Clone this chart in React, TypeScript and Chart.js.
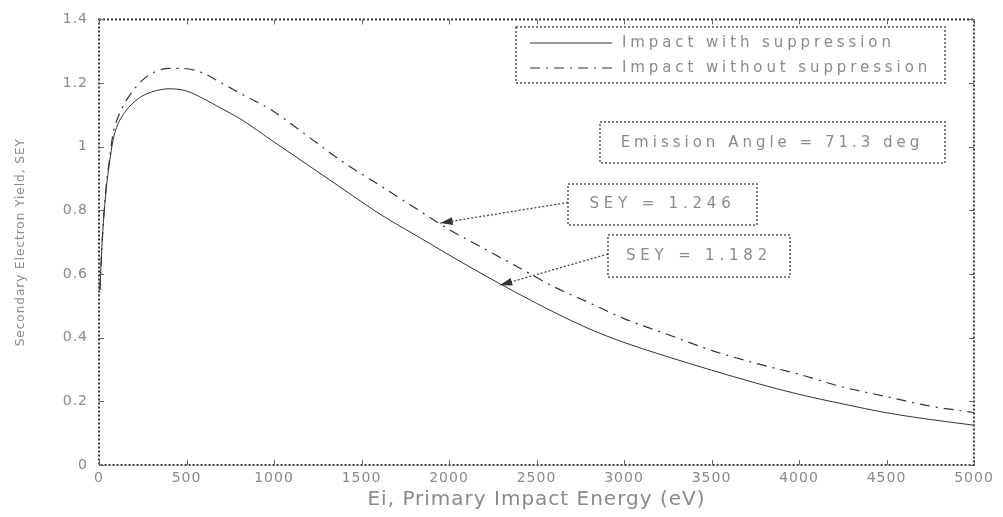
import React, { useEffect, useRef } from "react";
import { Chart, registerables } from "chart.js";

Chart.register(...registerables);

// ---- data ----
const energy = [5, 20, 40, 60, 80, 100, 150, 200, 250, 300, 400, 500, 600, 700, 800, 1000, 1200, 1400, 1600, 1800, 2000, 2200, 2400, 2600, 2800, 3000, 3250, 3500, 3750, 4000, 4250, 4500, 4750, 5000];
const seyWith = [0.55, 0.72, 0.86, 0.95, 1.02, 1.06, 1.11, 1.14, 1.16, 1.172, 1.182, 1.175, 1.15, 1.12, 1.09, 1.015, 0.94, 0.865, 0.79, 0.725, 0.66, 0.597, 0.537, 0.48, 0.428, 0.385, 0.34, 0.298, 0.258, 0.222, 0.192, 0.164, 0.143, 0.125];
const seyWithout = [0.55, 0.72, 0.87, 0.96, 1.04, 1.08, 1.14, 1.18, 1.21, 1.23, 1.246, 1.245, 1.23, 1.2, 1.17, 1.11, 1.03, 0.95, 0.88, 0.81, 0.74, 0.68, 0.62, 0.56, 0.51, 0.46, 0.41, 0.36, 0.32, 0.285, 0.245, 0.215, 0.185, 0.165];
const seriesLabels = ["Impact with suppression", "Impact without suppression"];
const xTickValues = [0, 500, 1000, 1500, 2000, 2500, 3000, 3500, 4000, 4500, 5000];
const yTickValues = [0, 0.2, 0.4, 0.6, 0.8, 1, 1.2, 1.4];
const xTitle = "Ei, Primary Impact Energy (eV)";
const yTitle = "Secondary Electron Yield, SEY";
const angleNote = "Emission Angle = 71.3 deg";
const peakNotes = ["SEY = 1.246", "SEY = 1.182"];
const arrowTipE = [1950, 2290];
const arrowTipSEY = [0.76, 0.565];

const TEXT = "#8a8a8a";
const FRAME = "#3a3a3a";
const LINE = "#333333";
const DASH = [10, 6, 2, 6];

function drawDottedBox(ctx: CanvasRenderingContext2D, x0: number, y0: number, x1: number, y1: number) {
  ctx.save();
  ctx.strokeStyle = "#555";
  ctx.lineWidth = 1.5;
  ctx.setLineDash([2, 2]);
  ctx.strokeRect(x0, y0, x1 - x0, y1 - y0);
  ctx.restore();
}

function spacedText(ctx: CanvasRenderingContext2D, text: string, x: number, y: number, spacing: number, align: "left" | "center") {
  ctx.save();
  (ctx as any).letterSpacing = spacing + "px";
  ctx.font = "15px 'DejaVu Sans'";
  ctx.fillStyle = TEXT;
  ctx.textBaseline = "middle";
  ctx.textAlign = "left";
  const w = ctx.measureText(text).width;
  const sx = align === "center" ? x - w / 2 : x;
  ctx.fillText(text, sx, y);
  ctx.restore();
}

function arrow(ctx: CanvasRenderingContext2D, fx: number, fy: number, tx: number, ty: number) {
  ctx.save();
  ctx.strokeStyle = "#444";
  ctx.fillStyle = "#333";
  ctx.lineWidth = 1.3;
  ctx.setLineDash([2, 2]);
  ctx.beginPath();
  ctx.moveTo(fx, fy);
  ctx.lineTo(tx, ty);
  ctx.stroke();
  const ang = Math.atan2(ty - fy, tx - fx);
  const len = 13;
  const wid = 0.3;
  ctx.setLineDash([]);
  ctx.beginPath();
  ctx.moveTo(tx, ty);
  ctx.lineTo(tx - len * Math.cos(ang - wid), ty - len * Math.sin(ang - wid));
  ctx.lineTo(tx - len * Math.cos(ang + wid), ty - len * Math.sin(ang + wid));
  ctx.closePath();
  ctx.fill();
  ctx.restore();
}

const decorPlugin = {
  id: "decor",
  beforeDraw(chart: any) {
    (chart.ctx as any).letterSpacing = "1px";
  },
  afterDraw(chart: any) {
    const ctx: CanvasRenderingContext2D = chart.ctx;
    const { left, right, top, bottom } = chart.chartArea;
    const xs = chart.scales.x;
    const ys = chart.scales.y;

    // frame
    ctx.save();
    ctx.strokeStyle = FRAME;
    ctx.lineWidth = 2;
    ctx.setLineDash([2, 2]);
    ctx.strokeRect(left, top, right - left, bottom - top);
    ctx.restore();

    // inward tick marks on all sides
    ctx.save();
    ctx.strokeStyle = "#666";
    ctx.lineWidth = 1;
    ctx.beginPath();
    xTickValues.forEach((v) => {
      const px = Math.round(xs.getPixelForValue(v)) + 0.5;
      ctx.moveTo(px, bottom);
      ctx.lineTo(px, bottom - 5);
      ctx.moveTo(px, top);
      ctx.lineTo(px, top + 5);
    });
    yTickValues.forEach((v) => {
      const py = Math.round(ys.getPixelForValue(v)) + 0.5;
      ctx.moveTo(left, py);
      ctx.lineTo(left + 5, py);
      ctx.moveTo(right, py);
      ctx.lineTo(right - 5, py);
    });
    ctx.stroke();
    ctx.restore();

    // legend
    drawDottedBox(ctx, 516, 27, 945, 83);
    const rows = [43, 68];
    chart.data.datasets.forEach((ds: any, i: number) => {
      ctx.save();
      ctx.strokeStyle = LINE;
      ctx.lineWidth = 1;
      ctx.setLineDash(ds.borderDash || []);
      ctx.beginPath();
      ctx.moveTo(530, rows[i]);
      ctx.lineTo(612, rows[i]);
      ctx.stroke();
      ctx.restore();
      spacedText(ctx, ds.label, 622, rows[i], 3.9, "left");
    });

    // emission angle box
    drawDottedBox(ctx, 600, 122, 945, 163);
    spacedText(ctx, angleNote, 772, 143, 4, "center");

    // SEY annotation boxes with arrows
    const boxes = [
      { x0: 568, y0: 184, x1: 757, y1: 225 },
      { x0: 608, y0: 235, x1: 790, y1: 277 },
    ];
    boxes.forEach((b, i) => {
      drawDottedBox(ctx, b.x0, b.y0, b.x1, b.y1);
      spacedText(ctx, peakNotes[i], (b.x0 + b.x1) / 2, (b.y0 + b.y1) / 2, 4.8, "center");
      const tx = xs.getPixelForValue(arrowTipE[i]);
      const ty = ys.getPixelForValue(arrowTipSEY[i]);
      arrow(ctx, b.x0, (b.y0 + b.y1) / 2 - 2, tx, ty);
    });
  },
};

export default function App() {
  const ref = useRef<HTMLCanvasElement | null>(null);

  useEffect(() => {
    if (!ref.current) return;
    const chart = new Chart(ref.current, {
      type: "line",
      data: {
        datasets: [
          {
            label: seriesLabels[0],
            data: energy.map((e, i) => ({ x: e, y: seyWith[i] })),
            borderColor: LINE,
            borderWidth: 1,
            pointRadius: 0,
            cubicInterpolationMode: "monotone",
            fill: false,
          },
          {
            label: seriesLabels[1],
            data: energy.map((e, i) => ({ x: e, y: seyWithout[i] })),
            borderColor: LINE,
            borderWidth: 1.2,
            borderDash: DASH,
            pointRadius: 0,
            cubicInterpolationMode: "monotone",
            fill: false,
          },
        ],
      },
      options: {
        animation: false,
        responsive: false,
        layout: { padding: { top: 17, right: 29, left: 0, bottom: 0 } },
        plugins: { legend: { display: false }, tooltip: { enabled: false } },
        scales: {
          x: {
            type: "linear",
            min: 0,
            max: 5000,
            afterFit: (s: any) => {
              s.height = 52;
            },
            afterBuildTicks: (s: any) => {
              s.ticks = xTickValues.map((v) => ({ value: v }));
            },
            grid: { display: false, drawTicks: false, tickLength: 0 },
            border: { display: false },
            ticks: {
              autoSkip: false,
              maxRotation: 0,
              padding: 5,
              color: TEXT,
              font: { family: "'DejaVu Sans'", size: 14 },
              callback: (v: any) => String(v),
            },
            title: {
              display: true,
              text: xTitle,
              color: TEXT,
              font: { family: "'DejaVu Sans'", size: 20 },
              padding: { top: 0, bottom: 5 },
            },
          },
          y: {
            type: "linear",
            min: 0,
            max: 1.4,
            afterFit: (s: any) => {
              s.width = 99;
            },
            afterBuildTicks: (s: any) => {
              s.ticks = yTickValues.map((v) => ({ value: v }));
            },
            grid: { display: false, drawTicks: false, tickLength: 0 },
            border: { display: false },
            ticks: {
              autoSkip: false,
              padding: 11,
              color: TEXT,
              font: { family: "'DejaVu Sans'", size: 14 },
              callback: (v: any) => String(Number(Number(v).toFixed(1))),
            },
            title: {
              display: true,
              text: yTitle,
              color: TEXT,
              font: { family: "'DejaVu Sans'", size: 12 },
              padding: { top: 14, bottom: 0 },
            },
          },
        },
      },
      plugins: [decorPlugin],
    } as any);
    return () => chart.destroy();
  }, []);

  return (
    <canvas
      ref={ref}
      width={1003}
      height={517}
      style={{ position: "absolute", left: 0, top: 0, display: "block" }}
    />
  );
}
